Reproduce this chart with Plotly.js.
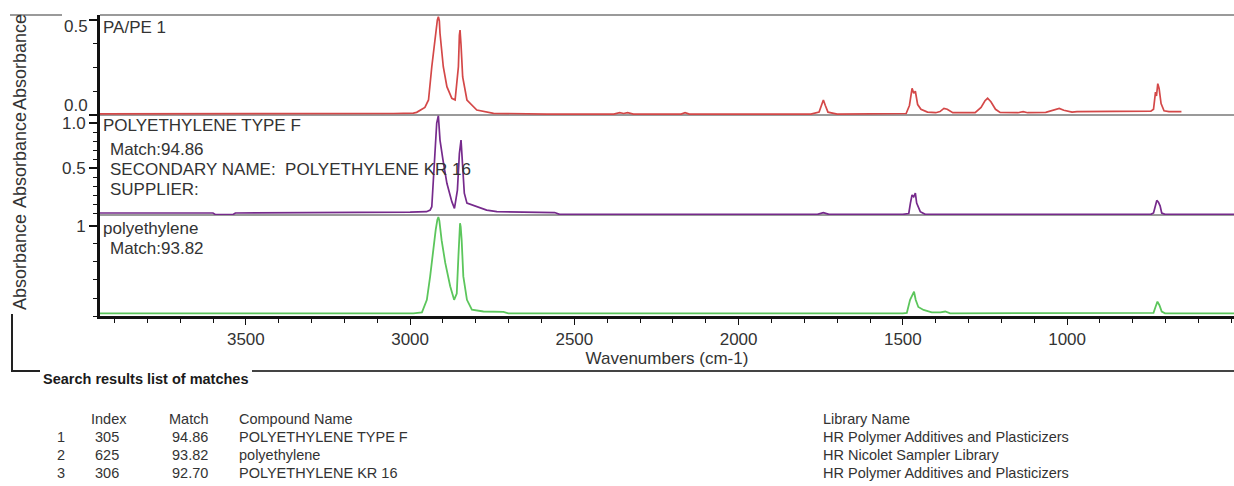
<!DOCTYPE html>
<html>
<head>
<meta charset="utf-8">
<script src="https://cdn.plot.ly/plotly-3.0.1.min.js"></script>
<style>
  html, body { margin: 0; padding: 0; background: #fff; }
  #chart { width: 1234px; height: 486px; }
</style>
</head>
<body>
<div id="chart"></div>
<script>
// ---------------- DATA ----------------
// Sample spectrum: PA/PE 1 (top panel, red)
const wnSample = [3944, 3200, 3050, 2990, 2980, 2955, 2944, 2934, 2924, 2917, 2914, 2911, 2909, 2899, 2888, 2873, 2863, 2853, 2850, 2848, 2845, 2840, 2827, 2797, 2746, 2660, 2584, 2380, 2362, 2350, 2338, 2320, 2175, 2163, 2150, 1780, 1755, 1748, 1742, 1736, 1728, 1700, 1490, 1480, 1472, 1467, 1462, 1455, 1445, 1425, 1400, 1387, 1375, 1365, 1348, 1280, 1262, 1250, 1242, 1232, 1218, 1204, 1150, 1134, 1120, 1065, 1040, 1024, 1010, 985, 970, 900, 800, 745, 737, 731, 728, 724, 720, 714, 705, 690, 652];
const absSample = [0.006, 0.006, 0.008, 0.010, 0.014, 0.040, 0.079, 0.254, 0.412, 0.500, 0.517, 0.495, 0.430, 0.254, 0.149, 0.088, 0.079, 0.254, 0.420, 0.447, 0.370, 0.200, 0.079, 0.026, 0.009, 0.006, 0.005, 0.005, 0.012, 0.008, 0.012, 0.005, 0.005, 0.012, 0.005, 0.005, 0.015, 0.050, 0.079, 0.050, 0.015, 0.005, 0.008, 0.050, 0.140, 0.115, 0.125, 0.055, 0.030, 0.015, 0.012, 0.018, 0.035, 0.030, 0.012, 0.012, 0.040, 0.075, 0.088, 0.070, 0.030, 0.014, 0.012, 0.018, 0.012, 0.014, 0.025, 0.035, 0.025, 0.015, 0.018, 0.018, 0.018, 0.020, 0.030, 0.120, 0.100, 0.165, 0.140, 0.060, 0.022, 0.018, 0.018];

// Match 1: POLYETHYLENE TYPE F (middle panel, purple)
const wnMatch1 = [3944, 3600, 3592, 3540, 3532, 3060, 3000, 2950, 2939, 2934, 2929, 2924, 2919, 2914, 2909, 2900, 2888, 2873, 2865, 2856, 2850, 2845, 2840, 2835, 2827, 2797, 2767, 2736, 2650, 2560, 2545, 2000, 1760, 1742, 1725, 1500, 1482, 1477, 1472, 1467, 1462, 1458, 1447, 1432, 1000, 745, 737, 732, 727, 722, 717, 712, 702, 492];
const absMatch1 = [0.000, 0.000, -0.018, -0.018, 0.000, 0.005, 0.010, 0.015, 0.033, 0.070, 0.400, 0.770, 1.000, 1.080, 0.810, 0.590, 0.330, 0.126, 0.052, 0.255, 0.660, 0.810, 0.510, 0.220, 0.110, 0.070, 0.033, 0.015, 0.008, 0.005, -0.015, -0.015, -0.015, 0.005, -0.015, -0.015, -0.005, 0.110, 0.200, 0.180, 0.220, 0.110, 0.015, -0.015, -0.015, -0.015, 0.000, 0.090, 0.140, 0.120, 0.080, 0.000, -0.015, -0.015];

// Match 2: polyethylene (bottom panel, green)
const wnMatch2 = [3944, 3000, 2990, 2964, 2949, 2939, 2929, 2922, 2917, 2914, 2911, 2909, 2904, 2893, 2878, 2866, 2858, 2853, 2850, 2848, 2846, 2843, 2838, 2827, 2812, 2777, 2716, 2701, 1500, 1488, 1478, 1470, 1466, 1461, 1453, 1437, 1412, 1386, 1371, 1356, 745, 737, 731, 725, 719, 712, 702, 492];
const absMatch2 = [0.030, 0.030, 0.030, 0.040, 0.180, 0.440, 0.770, 0.960, 1.070, 1.100, 1.060, 0.990, 0.840, 0.590, 0.330, 0.180, 0.250, 0.660, 0.960, 1.030, 0.990, 0.840, 0.440, 0.180, 0.070, 0.050, 0.045, 0.030, 0.030, 0.035, 0.180, 0.250, 0.270, 0.180, 0.100, 0.067, 0.040, 0.040, 0.050, 0.030, 0.030, 0.035, 0.100, 0.160, 0.120, 0.050, 0.030, 0.030];

// Axis tick labels
const xTickVals = [3500, 3000, 2500, 2000, 1500, 1000];
const xTickText = ['3500', '3000', '2500', '2000', '1500', '1000'];
const yTopTickVals = [0, 0.5];
const yTopTickText = ['0.0', '0.5'];
const yMidTickVals = [0.5, 1.0];
const yMidTickText = ['0.5', '1.0'];
const yBotTickVals = [1];
const yBotTickText = ['1'];

// Panel captions
const captionTop = ['PA/PE 1'];
const captionMid = ['POLYETHYLENE TYPE F', 'Match:94.86', 'SECONDARY NAME:\u00a0 POLYETHYLENE KR 16', 'SUPPLIER:'];
const captionBot = ['polyethylene', 'Match:93.82'];

// Search results table
const tableTitle = 'Search results list of matches';
const tableHeaders = ['Index', 'Match', 'Compound Name', 'Library Name'];
const tableRank = ['1', '2', '3'];
const tableIndex = ['305', '625', '306'];
const tableMatch = ['94.86', '93.82', '92.70'];
const tableCompound = ['POLYETHYLENE TYPE F', 'polyethylene', 'POLYETHYLENE KR 16'];
const tableLibrary = ['HR Polymer Additives and Plasticizers', 'HR Nicolet Sampler Library', 'HR Polymer Additives and Plasticizers'];

// ---------------- LAYOUT HELPERS ----------------
const W = 1234, H = 486;
const M = { l: 100, r: 0, t: 15, b: 170 };
const PW = W - M.l - M.r, PH = H - M.t - M.b;
const px = x => (x - M.l) / PW;            // pixel x -> paper
const py = y => (H - M.b - y) / PH;        // pixel y -> paper
const FONT = 'Liberation Sans, Arial, Helvetica, sans-serif';
const TXT = '#333333';

const traces = [
  { x: wnMatch2, y: absMatch2, xaxis: 'x', yaxis: 'y', type: 'scatter', mode: 'lines',
    line: { color: '#5cc65c', width: 1.8 }, name: 'polyethylene', hoverinfo: 'skip' },
  { x: wnMatch1, y: absMatch1, xaxis: 'x', yaxis: 'y2', type: 'scatter', mode: 'lines',
    line: { color: '#762a8c', width: 1.7 }, name: 'POLYETHYLENE TYPE F', hoverinfo: 'skip' },
  { x: wnSample, y: absSample, xaxis: 'x', yaxis: 'y3', type: 'scatter', mode: 'lines',
    line: { color: '#d44848', width: 1.7 }, name: 'PA/PE 1', hoverinfo: 'skip' }
];

const yCommon = {
  anchor: 'x', showline: true, linewidth: 3, linecolor: '#111', mirror: false,
  ticks: 'outside', ticklen: 8, tickwidth: 1.2, tickcolor: '#111',
  showgrid: false, zeroline: false, fixedrange: true,
  tickfont: { family: FONT, size: 17, color: TXT }, ticklabelstandoff: 0
};

const annotations = [];
function addText(text, xPix, yPix, opts) {
  annotations.push(Object.assign({
    text: text, xref: 'paper', yref: 'paper', x: px(xPix), y: py(yPix),
    xanchor: 'left', yanchor: 'middle', showarrow: false, borderpad: 0,
    font: { family: FONT, size: 17, color: TXT }
  }, opts || {}));
}

// Captions in panels
addText(captionTop[0], 102, 27);
const midY = [126, 149, 169, 189];
const midX = [102, 109, 109, 109];
captionMid.forEach((t, i) => addText(t, midX[i], midY[i]));
const botY = [228, 248];
const botX = [102, 109];
captionBot.forEach((t, i) => addText(t, botX[i], botY[i]));

// Top panel y tick labels (offset inside panel as in reference)
const topShift = [10, -6];
yTopTickVals.forEach((v, i) => annotations.push({
  text: yTopTickText[i], xref: 'paper', yref: 'y3', x: px(89), y: v, yshift: topShift[i],
  xanchor: 'right', yanchor: 'middle', showarrow: false, borderpad: 0,
  font: { family: FONT, size: 17, color: TXT }
}));

// Y axis titles
const absY = [62, 160, 262];
absY.forEach(yv => addText('Absorbance', 20, yv, { xanchor: 'center', textangle: -90,
  font: { family: FONT, size: 18, color: TXT } }));

// Table
addText(tableTitle, 42, 379, { font: { family: FONT, size: 14.5, color: '#1a1a1a', weight: 'bold' } });
const tblFont = { family: FONT, size: 14.5, color: TXT };
const headY = 419, rowY = [437, 455, 473];
addText(tableHeaders[0], 90, headY, { font: tblFont });
addText(tableHeaders[1], 168, headY, { font: tblFont });
addText(tableHeaders[2], 238, headY, { font: tblFont });
addText(tableHeaders[3], 822, headY, { font: tblFont });
rowY.forEach((yv, i) => {
  addText(tableRank[i], 61, yv, { font: tblFont, xanchor: 'center' });
  addText(tableIndex[i], 107, yv, { font: tblFont, xanchor: 'center' });
  addText(tableMatch[i], 209, yv, { font: tblFont, xanchor: 'right' });
  addText(tableCompound[i], 238, yv, { font: tblFont });
  addText(tableLibrary[i], 822, yv, { font: tblFont });
});

// Lines: panel separators and outer frame
const shapes = [];
function hline(x0, x1, y, color, w, layer) {
  shapes.push({ type: 'line', xref: 'paper', yref: 'paper', x0: px(x0), x1: px(x1), y0: py(y), y1: py(y),
    line: { color: color, width: w }, layer: layer || 'above' });
}
function vline(x, y0, y1, color, w) {
  shapes.push({ type: 'line', xref: 'paper', yref: 'paper', x0: px(x), x1: px(x), y0: py(y0), y1: py(y1),
    line: { color: color, width: w } });
}
hline(100, 1234, 15, '#9a9a9a', 2, 'below');
hline(100, 1234, 115, '#9a9a9a', 2, 'below');
hline(100, 1234, 215, '#9a9a9a', 2, 'below');
hline(10, 62, 15, '#9a9a9a', 2);
vline(12, 314, 371, '#222', 2);
hline(11, 40, 371, '#222', 2);
hline(252, 1234, 371, '#444', 2);

const layout = {
  width: W, height: H,
  margin: M,
  paper_bgcolor: '#ffffff', plot_bgcolor: '#ffffff',
  showlegend: false,
  font: { family: FONT, size: 17, color: TXT },
  xaxis: {
    domain: [0, 1], anchor: 'y', range: [3944, 492],
    showline: true, linewidth: 3, linecolor: '#111', mirror: false,
    ticks: 'outside', ticklen: 6, tickwidth: 1.2, tickcolor: '#111',
    tickmode: 'array', tickvals: xTickVals, ticktext: xTickText,
    minor: { tickmode: 'linear', tick0: 0, dtick: 100, ticks: 'outside', ticklen: 4, tickwidth: 1, tickcolor: '#111' },
    showgrid: false, zeroline: false, fixedrange: true,
    tickfont: { family: FONT, size: 17, color: TXT },
    title: { text: 'Wavenumbers (cm-1)', font: { family: FONT, size: 17, color: TXT }, standoff: 3 }
  },
  yaxis: Object.assign({}, yCommon, {
    domain: [0, py(215)], range: [0, 1.122],
    tickmode: 'array', tickvals: yBotTickVals, ticktext: yBotTickText,
    minor: { tickmode: 'linear', tick0: 0, dtick: 0.2, ticks: 'outside', ticklen: 4, tickwidth: 1, tickcolor: '#111' }
  }),
  yaxis2: Object.assign({}, yCommon, {
    domain: [py(215), py(115)], range: [-0.022, 1.089],
    tickmode: 'array', tickvals: yMidTickVals, ticktext: yMidTickText,
    minor: { tickmode: 'linear', tick0: 0, dtick: 0.1, ticks: 'outside', ticklen: 4, tickwidth: 1, tickcolor: '#111' }
  }),
  yaxis3: Object.assign({}, yCommon, {
    domain: [py(115), 1], range: [0, 0.5263],
    tickmode: 'array', tickvals: yTopTickVals, ticktext: yTopTickText, showticklabels: false,
    minor: { tickmode: 'linear', tick0: 0, dtick: 0.125, ticks: 'outside', ticklen: 4, tickwidth: 1, tickcolor: '#111' }
  }),
  annotations: annotations,
  shapes: shapes
};

Plotly.newPlot('chart', traces, layout, { displayModeBar: false, staticPlot: true });
</script>
</body>
</html>
